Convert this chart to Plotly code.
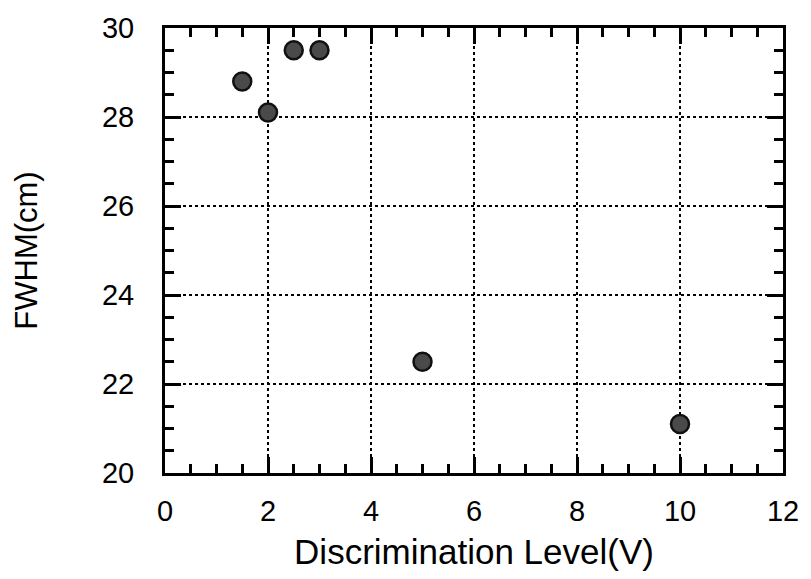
import plotly.graph_objects as go

disc_level = [1.5, 2.0, 2.5, 3.0, 5.0, 10.0]
fwhm_cm = [28.8, 28.1, 29.5, 29.5, 22.5, 21.1]

x_ticks = [0, 2, 4, 6, 8, 10, 12]
y_ticks = [20, 22, 24, 26, 28, 30]

FONT = "Liberation Sans, Arial, Helvetica, sans-serif"

fig = go.Figure()
fig.add_trace(go.Scatter(
    x=disc_level, y=fwhm_cm, mode="markers",
    marker=dict(size=18, color="#4a4a4a", line=dict(color="#111111", width=2.5)),
    showlegend=False, cliponaxis=False,
))

axis_common = dict(
    showline=True, linecolor="black", linewidth=3, mirror="ticks",
    ticks="inside", ticklen=16, tickwidth=2.5, tickcolor="black",
    showgrid=True, gridcolor="black", griddash="dot", gridwidth=2,
    zeroline=False,
    tickfont=dict(family=FONT, size=29, color="black"),
    minor=dict(ticks="inside", ticklen=9, tickwidth=2.5, tickcolor="black", showgrid=False),
)

fig.update_xaxes(
    range=[0, 12], tickvals=x_ticks, ticktext=[str(v) for v in x_ticks],
    ticklabelstandoff=10,
    title=dict(text="Discrimination Level(V)", standoff=14,
               font=dict(family=FONT, size=35, color="black")),
    **axis_common,
)
fig.update_xaxes(minor_dtick=0.5)
fig.update_yaxes(
    range=[20, 30], tickvals=y_ticks, ticktext=[str(v) for v in y_ticks],
    ticklabelstandoff=22,
    title=dict(text="FWHM(cm)", standoff=56,
               font=dict(family=FONT, size=31, color="black")),
    **axis_common,
)
fig.update_yaxes(minor_dtick=0.5)

fig.update_layout(
    width=811, height=579,
    margin=dict(l=165, r=24, t=23, b=106),
    paper_bgcolor="white", plot_bgcolor="white",
)

fig.write_html("out.html")
